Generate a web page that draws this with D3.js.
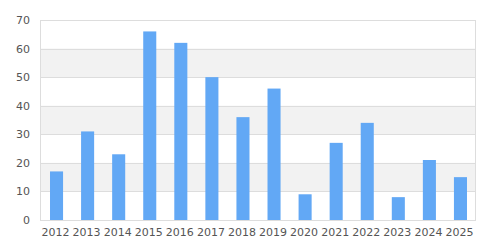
<!DOCTYPE html>
<html>
<head>
<meta charset="utf-8">
<script src="https://cdn.jsdelivr.net/npm/d3@7"></script>
<style>
  html, body { margin: 0; padding: 0; background: #fff; }
  svg { display: block; }
  text { font-family: "DejaVu Sans", sans-serif; font-size: 11px; fill: #555; }
</style>
</head>
<body>
<svg id="chart" width="485" height="250"></svg>
<script>
// Yearly values
const years = ["2012","2013","2014","2015","2016","2017","2018","2019","2020","2021","2022","2023","2024","2025"];
const values = [17, 31, 23, 66, 62, 50, 36, 46, 9, 27, 34, 8, 21, 15];
const yTicks = [0, 10, 20, 30, 40, 50, 60, 70];

const W = 485, H = 250;
const margin = { top: 20, right: 10, bottom: 30, left: 40 };
const svg = d3.select("#chart");
const iw = W - margin.left - margin.right;
const ih = H - margin.top - margin.bottom;
const g = svg.append("g").attr("transform", `translate(${margin.left},${margin.top})`);

const x = d3.scaleBand().domain(years).range([0, iw]).paddingInner(0.58).paddingOuter(0.29);
const y = d3.scaleLinear().domain([0, 70]).range([ih, 0]);

// alternating shaded bands
const bands = d3.range(0, 70, 10).filter(v => (v / 10) % 2 === 1);
g.selectAll("rect.band").data(bands).join("rect")
  .attr("class", "band")
  .attr("x", 0).attr("width", iw)
  .attr("y", d => y(d + 10)).attr("height", d => y(d) - y(d + 10))
  .attr("fill", "#f2f2f2");

// gridlines
g.selectAll("line.grid").data(yTicks).join("line")
  .attr("class", "grid")
  .attr("x1", 0).attr("x2", iw)
  .attr("y1", d => Math.round(y(d)) + 0.5).attr("y2", d => Math.round(y(d)) + 0.5)
  .attr("stroke", "#dddddd");

// frame
g.append("rect")
  .attr("x", 0.5).attr("y", 0.5).attr("width", iw).attr("height", ih)
  .attr("fill", "none").attr("stroke", "#dddddd");

// bars
g.append("g").attr("transform", "translate(1,0)")
  .selectAll("rect.bar").data(values).join("rect")
  .attr("class", "bar")
  .attr("x", (d, i) => x(years[i]))
  .attr("width", x.bandwidth())
  .attr("y", d => y(d))
  .attr("height", d => y(0) - y(d))
  .attr("fill", "#62a8f5");

// y axis
const yAxis = g.append("g")
  .call(d3.axisLeft(y).tickValues(yTicks).tickSize(0).tickPadding(10));
yAxis.select(".domain").remove();
yAxis.selectAll("text").attr("fill", "#555").style("font-size", "11px");

// x axis
const xAxis = g.append("g").attr("transform", `translate(0,${ih})`)
  .call(d3.axisBottom(x).tickSize(0).tickPadding(8));
xAxis.select(".domain").remove();
xAxis.selectAll("text").attr("fill", "#555").style("font-size", "11px");
</script>
</body>
</html>
